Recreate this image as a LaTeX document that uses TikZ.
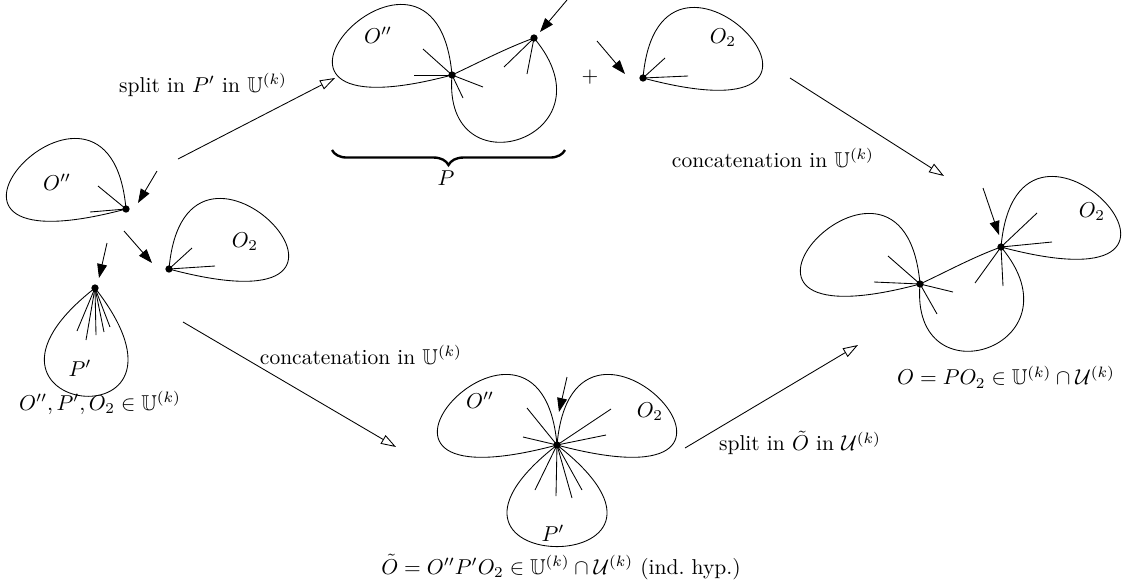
\documentclass[tikz,border=0pt]{standalone}
\usepackage{amssymb}
\usetikzlibrary{arrows.meta,decorations.pathreplacing}
\begin{document}
\begin{tikzpicture}[
    x=0.465pt, y=0.465pt,
    punkt/.style={circle, fill=black, inner sep=0pt, minimum size=3.4pt},
    zeiger/.style={-{Triangle[length=6.5pt,width=4.6pt]}},
    schritt/.style={-{Triangle[open,length=7pt,width=4.6pt]}},
    klammer/.style={decorate, decoration={brace, mirror, amplitude=7pt}, line width=1.1pt}
  ]
  \useasboundingbox (0,0) rectangle (1130,-585);

  % links: O'', O_2, P'
  \node[punkt] (lo) at (126,-209) {};
  \node[punkt] (lq) at (169,-269) {};
  \node[punkt] (lp) at (95,-288) {};
  \draw (lo.center) .. controls +(95:190) and +(195:270) .. (lo.center);
  \draw (lq.center) .. controls +(85:190) and +(-15:270) .. (lq.center);
  \draw (lp.center) .. controls +(218:205) and +(308:205) .. (lp.center);
  \foreach \p in {(98,-186),(90,-212)} \draw (lo.center) -- \p;
  \foreach \p in {(192,-248),(215,-266)} \draw (lq.center) -- \p;
  \foreach \p in {(77,-331),(86,-340),(96,-335),(104,-332),(110,-327)} \draw (lp.center) -- \p;
  \node (loL) at (57,-182) {$O''$};
  \node (lqL) at (245,-242) {$O_2$};
  \node (lpL) at (80,-368) {$P'$};
  \coordinate (za1) at (157,-171); \coordinate (ze1) at (138,-203);
  \coordinate (za2) at (124,-231); \coordinate (ze2) at (152,-263);
  \coordinate (za3) at (107,-243); \coordinate (ze3) at (99,-278);
  \draw[zeiger] (za1) -- (ze1);
  \draw[zeiger] (za2) -- (ze2);
  \draw[zeiger] (za3) -- (ze3);
  \node (links) at (100,-403) {$O'', P', O_2 \in \mathbb{U}^{(k)}$};

  % oben: P + O_2
  \node[punkt] (oa) at (452,-75) {};
  \node[punkt] (ob) at (534,-38) {};
  \node[punkt] (oq) at (643,-78) {};
  \draw (oa.center) .. controls +(95:190) and +(195:270) .. (oa.center);
  \draw (oa.center) .. controls +(25:30) and +(200:30) .. (ob.center)
                    .. controls +(-50:130) and +(-95:120) .. (oa.center);
  \draw (oq.center) .. controls +(85:190) and +(-15:270) .. (oq.center);
  \foreach \p in {(423,-49),(414,-75),(483,-87),(463,-98)} \draw (oa.center) -- \p;
  \foreach \p in {(504,-67),(527,-74)} \draw (ob.center) -- \p;
  \foreach \p in {(665,-58),(688,-76)} \draw (oq.center) -- \p;
  \node (oaL) at (378,-35) {$O''$};
  \node (oqL) at (723,-38) {$O_2$};
  \node (plus) at (590,-77) {$+$};
  \coordinate (za4) at (567,0); \coordinate (ze4) at (540,-32);
  \coordinate (za5) at (597,-41); \coordinate (ze5) at (625,-74);
  \draw[zeiger] (za4) -- (ze4);
  \draw[zeiger] (za5) -- (ze5);
  \coordinate (klA) at (332,-150); \coordinate (klB) at (565,-150);
  \draw[klammer] (klA) -- (klB);
  \node (pL) at (446,-178) {$P$};

  % rechts: O = P O_2
  \node[punkt] (ra) at (920,-284) {};
  \node[punkt] (rb) at (1001,-247) {};
  \draw (ra.center) .. controls +(95:190) and +(195:270) .. (ra.center);
  \draw (ra.center) .. controls +(25:30) and +(200:30) .. (rb.center)
                    .. controls +(-50:130) and +(-95:120) .. (ra.center);
  \draw (rb.center) .. controls +(85:190) and +(-15:270) .. (rb.center);
  \foreach \p in {(888,-256),(874,-282),(953,-292),(937,-314)} \draw (ra.center) -- \p;
  \foreach \p in {(1037,-213),(1052,-242),(975,-283),(1003,-286)} \draw (rb.center) -- \p;
  \node (rbL) at (1092,-212) {$O_2$};
  \coordinate (za6) at (983,-188); \coordinate (ze6) at (999,-235);
  \draw[zeiger] (za6) -- (ze6);
  \node (rechts) at (1006,-377) {$O = PO_2 \in \mathbb{U}^{(k)} \cap \mathcal{U}^{(k)}$};

  % unten: O''P'O_2
  \node[punkt] (u) at (557,-445) {};
  \draw (u.center) .. controls +(95:190) and +(195:270) .. (u.center);
  \draw (u.center) .. controls +(85:190) and +(-15:270) .. (u.center);
  \draw (u.center) .. controls +(218:220) and +(322:220) .. (u.center);
  \foreach \p in {(527,-408),(523,-437),(611,-409),(606,-435),(535,-490),(556,-496),(572,-498),(582,-490)}
    \draw (u.center) -- \p;
  \node (uoL) at (480,-400) {$O''$};
  \node (uqL) at (650,-412) {$O_2$};
  \node (upL) at (553,-533) {$P'$};
  \coordinate (za7) at (567,-377); \coordinate (ze7) at (559,-412);
  \draw[zeiger] (za7) -- (ze7);
  \node (unten) at (561,-567) {$\tilde{O} = O''P'O_2 \in \mathbb{U}^{(k)} \cap \mathcal{U}^{(k)}$ (ind.\ hyp.)};

  % Schritte
  \coordinate (s1a) at (178,-159); \coordinate (s1b) at (335,-78);
  \coordinate (s2a) at (790,-78); \coordinate (s2b) at (944,-176);
  \coordinate (s3a) at (183,-322); \coordinate (s3b) at (396,-447);
  \coordinate (s4a) at (685,-448); \coordinate (s4b) at (858,-345);
  \draw[schritt] (s1a) -- (s1b);
  \draw[schritt] (s2a) -- (s2b);
  \draw[schritt] (s3a) -- (s3b);
  \draw[schritt] (s4a) -- (s4b);
  \node (t1) at (203,-85) {split in $P'$ in $\mathbb{U}^{(k)}$};
  \node (t2) at (773,-158) {concatenation in $\mathbb{U}^{(k)}$};
  \node (t3) at (361,-355) {concatenation in $\mathbb{U}^{(k)}$};
  \node (t4) at (800,-443) {split in $\tilde{O}$ in $\mathcal{U}^{(k)}$};
\end{tikzpicture}
\end{document}
